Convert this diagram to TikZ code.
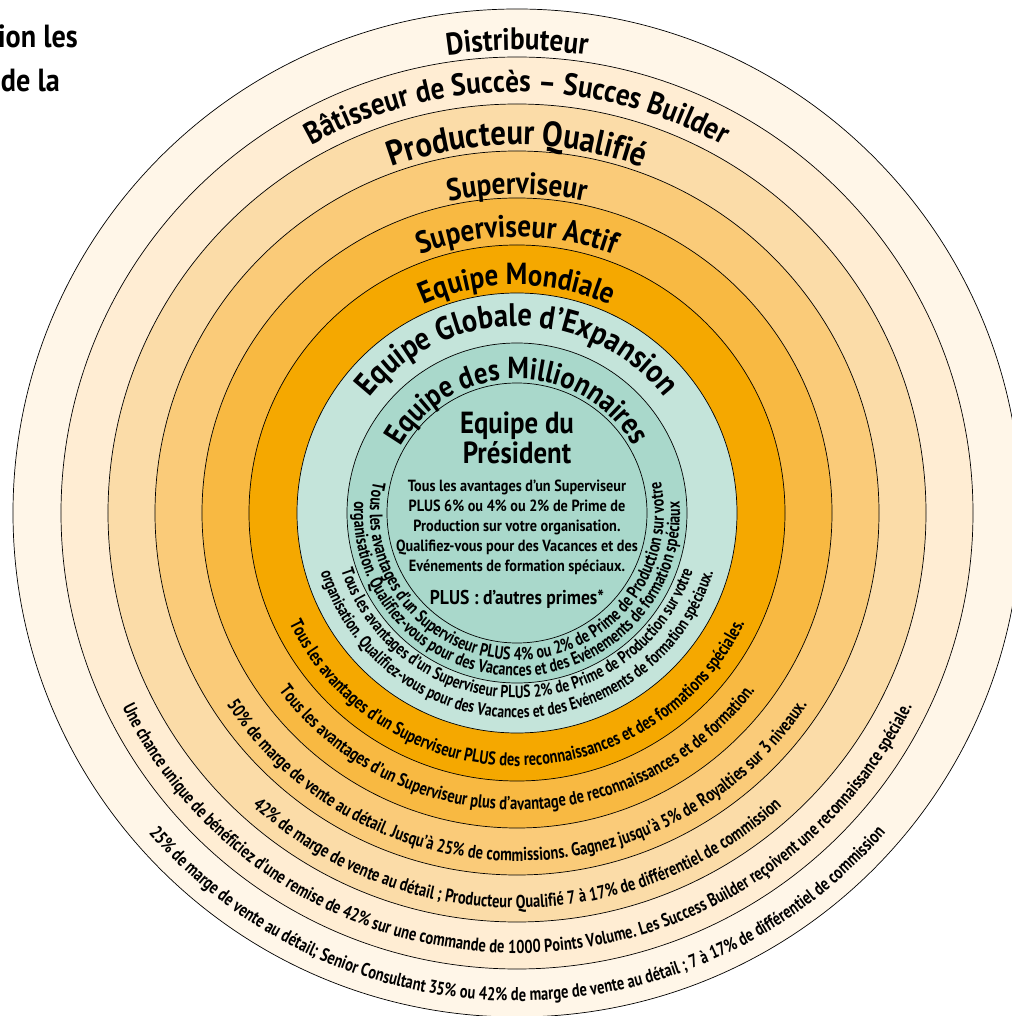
\documentclass[tikz,border=0pt]{standalone}
\usepackage{fontspec}
\setmainfont{PT Sans}[FakeStretch=0.78]
\newfontfamily\titlefamily{PT Sans}[FakeStretch=0.88]
\usetikzlibrary{decorations.text}

\definecolor{distrib}{HTML}{FFF6E8}
\definecolor{batis}{HTML}{FFEDD3}
\definecolor{prod}{HTML}{FBDCA8}
\definecolor{superv}{HTML}{FACB79}
\definecolor{actif}{HTML}{F8B942}
\definecolor{mondiale}{HTML}{F5A800}
\definecolor{globale}{HTML}{C4E4DA}
\definecolor{million}{HTML}{A9D8CB}

\newcommand{\tf}[1]{\titlefamily\bfseries\fontsize{#1}{#1}\selectfont}
\newcommand{\rf}{\bfseries\fontsize{18.6}{18.6}\selectfont}
\newcommand{\tealf}[1]{\bfseries\fontsize{#1}{#1}\selectfont}
\tikzstyle{ring}=[draw=black,line width=0.7pt]
\tikzset{arctext/.style={decorate,decoration={text along path,text align=center,text={#1}}}}

\begin{document}
\begin{tikzpicture}[x=1pt,y=1pt]
\useasboundingbox (-517,-503) rectangle (494,513);
\coordinate (C) at (0,0);

% rings
\path[ring,fill=distrib] (C) circle[radius=504pt];
\path[ring,fill=batis] (C) circle[radius=456pt];
\path[ring,fill=prod] (C) circle[radius=409pt];
\path[ring,fill=superv] (C) circle[radius=362pt];
\path[ring,fill=actif] (C) circle[radius=315pt];
\path[ring,fill=mondiale] (C) circle[radius=268pt];
\path[ring,fill=globale] (C) circle[radius=220pt];
\path[ring,fill=million] (C) circle[radius=170pt];
\path[ring] (C) circle[radius=130pt];

% heading, cut by the page
\node[anchor=base east,inner sep=0pt,font=\tf{32}] (headA) at (-439,465) {ion les};
\node[anchor=base east,inner sep=0pt,font=\tf{32}] (headB) at (-457,421) {de la};

% titles along the top
\path[arctext={|\tf{31}|Distributeur}] (170:463pt) arc[start angle=170,end angle=10,radius=463pt];
\path[arctext={|\tf{31}|Bâtisseur de Succès – Succes Builder}] (170:421pt) arc[start angle=170,end angle=10,radius=421pt];
\path[arctext={|\tf{35}|Producteur Qualifié}] (170:368pt) arc[start angle=170,end angle=10,radius=368pt];
\path[arctext={|\tf{31}|Superviseur}] (170:319pt) arc[start angle=170,end angle=10,radius=319pt];
\path[arctext={|\tf{31}|Superviseur Actif}] (170:276pt) arc[start angle=170,end angle=10,radius=276pt];
\path[arctext={|\tf{30.5}|Equipe Mondiale}] (170:228pt) arc[start angle=170,end angle=10,radius=228pt];
\path[arctext={|\tf{32.5}|Equipe Globale d’Expansion}] (175:187pt) arc[start angle=175,end angle=5,radius=187pt];
\path[arctext={|\tf{30.5}|Equipe des Millionnaires}] (178:134pt) arc[start angle=178,end angle=2,radius=134pt];

% centre
\node[font=\tf{30.5},align=center] (pres) at (0,75) {Equipe du\\[-1pt]Président};
\node[font=\titlefamily\bfseries\fontsize{16.2}{20}\selectfont,align=center] (presTxt) at (0,-14) {Tous les avantages d’un Superviseur\\PLUS 6\% ou 4\% ou 2\% de Prime de\\Production sur votre organisation.\\Qualifiez-vous pour des Vacances et des\\Evénements de formation spéciaux.};
\node[font=\tf{20}] (presPlus) at (0,-86) {PLUS : d’autres primes*};

% texts along the bottom
\path[arctext={|\rf|25{\%} de marge de vente au détail; Senior Consultant 35{\%} ou 42{\%} de marge de vente au détail ; 7 à 17{\%} de différentiel de commission}] (170:488pt) arc[start angle=170,end angle=370,radius=488pt];
\path[arctext={|\rf|Une chance unique de bénéficiez d’une remise de 42{\%} sur une commande de 1000 Points Volume. Les Success Builder reçoivent une reconnaissance spéciale.}] (160:440pt) arc[start angle=160,end angle=380,radius=440pt];
\path[arctext={|\rf|42{\%} de marge de vente au détail ; Producteur Qualifié 7 à 17{\%} de différentiel de commission}] (170:395pt) arc[start angle=170,end angle=370,radius=395pt];
\path[arctext={|\rf|50{\%} de marge de vente au détail. Jusqu’à 25{\%} de commissions. Gagnez jusqu’à 5{\%} de Royalties sur 3 niveaux.}] (170:348pt) arc[start angle=170,end angle=370,radius=348pt];
\path[arctext={|\rf|Tous les avantages d’un Superviseur plus d’avantage de reconnaissances et de formation.}] (170:297pt) arc[start angle=170,end angle=370,radius=297pt];
\path[arctext={|\rf|Tous les avantages d’un Superviseur PLUS des reconnaissances et des formations spéciales.}] (160:253pt) arc[start angle=160,end angle=380,radius=253pt];
\path[arctext={|\tealf{17.5}|Tous les avantages d’un Superviseur PLUS 2{\%} de Prime de Production sur votre}] (150:185pt) arc[start angle=150,end angle=390,radius=185pt];
\path[arctext={|\tealf{17.5}|organisation. Qualifiez-vous pour des Vacances et des Evénements de formation spéciaux.}] (150:205pt) arc[start angle=150,end angle=390,radius=205pt];
\path[arctext={|\tealf{18.2}|Tous les avantages d’un Superviseur PLUS 4{\%} ou 2{\%} de Prime de Production sur votre}] (130:147pt) arc[start angle=130,end angle=410,radius=147pt];
\path[arctext={|\tealf{18}|organisation. Qualifiez-vous pour des Vacances et des Evénements de formation spéciaux}] (130:163pt) arc[start angle=130,end angle=410,radius=163pt];
\end{tikzpicture}
\end{document}
